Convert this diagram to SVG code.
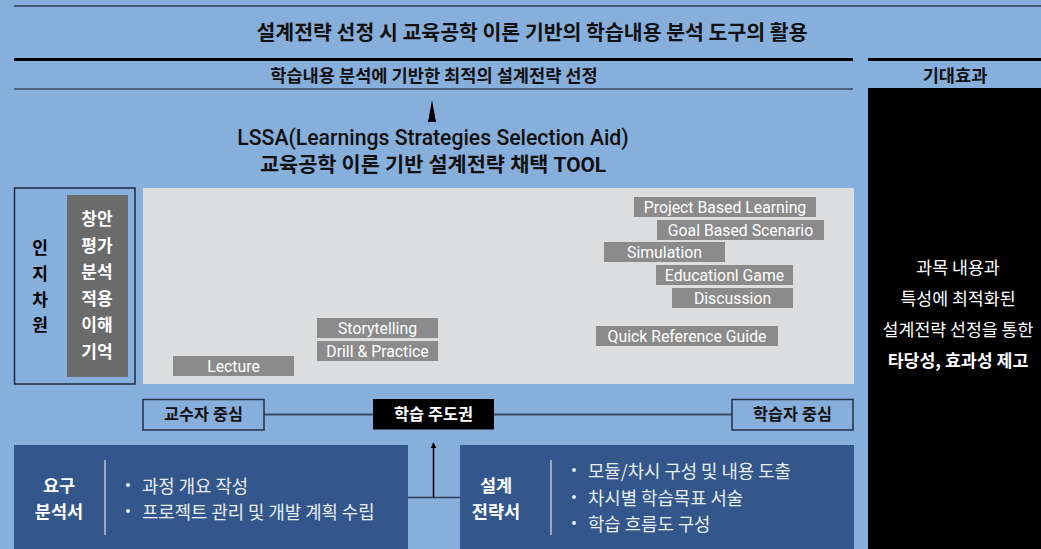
<svg xmlns="http://www.w3.org/2000/svg" width="1041" height="549" viewBox="0 0 1041 549">
<defs>
<style>
text{font-family:Roboto,"Noto Sans CJK KR",sans-serif;dominant-baseline:central;text-anchor:middle}
.kr{font-family:"Noto Sans CJK KR",sans-serif}
.b{font-weight:bold}
.chip rect{fill:#8b8b8b}
.chip text{fill:#fff;font-size:15.8px}
.axis rect{fill:none;stroke:#253040;stroke-width:1.5}
.axis text{font-size:16.3px;font-weight:bold;fill:#111}
.wl{fill:#fff}
.bul{fill:#e8edf3;font-size:17.8px;text-anchor:start}
.dot{fill:#e8edf3}
</style>
<marker id="ah" viewBox="0 0 10 10" refX="9" refY="5" markerWidth="6" markerHeight="10" markerUnits="userSpaceOnUse" orient="auto"><path d="M0,0L10,5L0,10z" fill="#000"/></marker>
</defs>
<rect width="1041" height="549" fill="#87afdc"/>
<g id="header">
<line x1="14" y1="6" x2="1041" y2="6" stroke="#2e3e52" stroke-width="1.5"/>
<text class="kr b" x="532" y="31" font-size="20.5" fill="#111">설계전략 선정 시 교육공학 이론 기반의 학습내용 분석 도구의 활용</text>
<line x1="14" y1="59.5" x2="853" y2="59.5" stroke="#000" stroke-width="3"/>
<line x1="868" y1="59.5" x2="1041" y2="59.5" stroke="#000" stroke-width="3"/>
<text class="kr b" x="434" y="74" font-size="17.6" fill="#111">학습내용 분석에 기반한 최적의 설계전략 선정</text>
<text class="kr b" x="955" y="74" font-size="17.6" fill="#111">기대효과</text>
<line x1="14" y1="89" x2="853" y2="89" stroke="#3a4a60" stroke-width="1.5"/>
</g>
<g id="effect">
<rect x="868" y="88" width="173" height="461" fill="#000"/>
<text class="kr" x="958" y="266" font-size="17.3" fill="#fff">과목 내용과</text>
<text class="kr" x="958" y="297" font-size="17.3" fill="#fff">특성에 최적화된</text>
<text class="kr" x="958" y="328" font-size="17.3" fill="#fff">설계전략 선정을 통한</text>
<text class="kr b" x="958" y="359" font-size="17.3" fill="#fff">타당성, 효과성 제고</text>
</g>
<g id="lssa">
<text x="433" y="137" font-size="21.2" font-weight="500" fill="#111">LSSA(Learnings Strategies Selection Aid)</text>
<text class="b" x="433" y="165" font-size="20.8" fill="#111">교육공학 이론 기반 설계전략 채택 TOOL</text>
</g>
<g id="cognitive">
<rect x="14.5" y="188" width="120.5" height="196" fill="none" stroke="#1e2a3a" stroke-width="1.5"/>
<text class="kr b" x="40" y="246" font-size="17" fill="#000">인</text>
<text class="kr b" x="40" y="272" font-size="17" fill="#000">지</text>
<text class="kr b" x="40" y="298" font-size="17" fill="#000">차</text>
<text class="kr b" x="40" y="323" font-size="17" fill="#000">원</text>
<rect x="67" y="195" width="61" height="182" fill="#6b6b6b"/>
<text class="kr b wl" x="97" y="217" font-size="17">창안</text>
<text class="kr b wl" x="97" y="244" font-size="17">평가</text>
<text class="kr b wl" x="97" y="270" font-size="17">분석</text>
<text class="kr b wl" x="97" y="297" font-size="17">적용</text>
<text class="kr b wl" x="97" y="323" font-size="17">이해</text>
<text class="kr b wl" x="97" y="350" font-size="17">기억</text>
</g>
<g id="panel">
<rect x="143" y="188" width="711" height="196" fill="#dcddde"/>
</g>
<g id="strategies" class="chip">
<g id="s-lecture"><rect x="173" y="356" width="121" height="20"/><text x="233.5" y="366">Lecture</text></g>
<g id="s-story"><rect x="317" y="318" width="121" height="20"/><text x="377.5" y="328">Storytelling</text></g>
<g id="s-drill"><rect x="317" y="341" width="121" height="20"/><text x="377.5" y="351">Drill &amp; Practice</text></g>
<g id="s-pbl"><rect x="634" y="197" width="182" height="20"/><text x="725" y="207">Project Based Learning</text></g>
<g id="s-gbs"><rect x="657" y="220" width="167" height="20"/><text x="740.5" y="230">Goal Based Scenario</text></g>
<g id="s-sim"><rect x="604" y="242" width="121" height="20"/><text x="664.5" y="252">Simulation</text></g>
<g id="s-game"><rect x="656" y="265" width="137" height="20"/><text x="724.5" y="275">Educationl Game</text></g>
<g id="s-disc"><rect x="672" y="288" width="121" height="20"/><text x="732.5" y="298">Discussion</text></g>
<g id="s-qrg"><rect x="596" y="326" width="182" height="20"/><text x="687" y="336">Quick Reference Guide</text></g>
</g>
<g id="connectors" fill="none">
<line x1="264" y1="414.5" x2="373" y2="414.5" stroke="#3a4a60" stroke-width="2"/>
<line x1="494" y1="414.5" x2="732" y2="414.5" stroke="#3a4a60" stroke-width="2"/>
<line x1="408" y1="497.5" x2="460" y2="497.5" stroke="#2e3e52" stroke-width="1.5"/>
<line x1="433.5" y1="497.5" x2="433.5" y2="443" stroke="#000" stroke-width="1.5" marker-end="url(#ah)"/>
<path d="M432,100L428,122L436,122z" fill="#000"/>
</g>
<g id="teacher" class="axis"><rect x="143" y="399.5" width="121" height="30.5"/><text x="203.5" y="414.5">교수자 중심</text></g>
<g id="lead"><rect x="373" y="399" width="121" height="30.5" fill="#000"/><text class="b" x="433.5" y="414.5" font-size="16.3" fill="#fff">학습 주도권</text></g>
<g id="learner" class="axis"><rect x="732" y="399.5" width="121" height="30.5"/><text x="792.5" y="414.5">학습자 중심</text></g>
<g id="req">
<rect x="14" y="445" width="394" height="104" fill="#33578a"/>
<text class="kr b wl" x="59" y="484" font-size="17.5">요구</text>
<text class="kr b wl" x="59" y="510" font-size="17.5">분석서</text>
<line x1="105" y1="460" x2="105" y2="535" stroke="#b8c4d4" stroke-width="1.5"/>
<circle class="dot" cx="128" cy="485" r="2"/>
<text class="kr bul" x="142" y="485">과정 개요 작성</text>
<circle class="dot" cx="128" cy="511" r="2"/>
<text class="kr bul" x="142" y="511">프로젝트 관리 및 개발 계획 수립</text>
</g>
<g id="design">
<rect x="460" y="445" width="394" height="104" fill="#33578a"/>
<text class="kr b wl" x="496" y="484" font-size="17.5">설계</text>
<text class="kr b wl" x="496" y="510" font-size="17.5">전략서</text>
<line x1="551" y1="460" x2="551" y2="535" stroke="#b8c4d4" stroke-width="1.5"/>
<circle class="dot" cx="574" cy="470" r="2"/>
<text class="kr bul" x="588" y="470">모듈/차시 구성 및 내용 도출</text>
<circle class="dot" cx="574" cy="497" r="2"/>
<text class="kr bul" x="588" y="497">차시별 학습목표 서술</text>
<circle class="dot" cx="574" cy="523" r="2"/>
<text class="kr bul" x="588" y="523">학습 흐름도 구성</text>
</g>
</svg>
